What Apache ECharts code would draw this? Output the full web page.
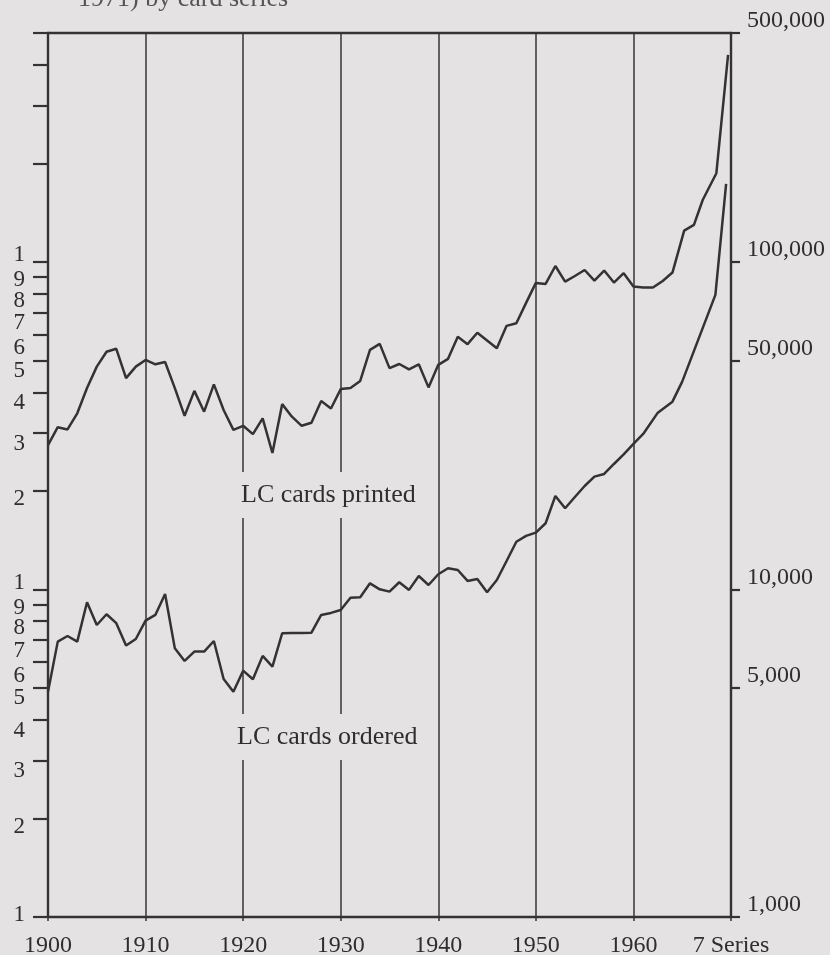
<!DOCTYPE html>
<html><head><meta charset="utf-8">
<script src="https://cdn.jsdelivr.net/npm/echarts@6/dist/echarts.min.js"></script>
<style>html,body{margin:0;padding:0;background:#e5e2e3;}#c{width:830px;height:955px;}</style>
</head><body><div id="c"></div>
<script>
const yearsPrinted = [1900,1901,1902,1903,1904,1905,1906,1907,1908,1909,
  1910,1911,1912,1913,1914,1915,1916,1917,1918,1919,
  1920,1921,1922,1923,1924,1925,1926,1927,1928,1929,
  1930,1931,1932,1933,1934,1935,1936,1937,1938,1939,
  1940,1941,1942,1943,1944,1945,1946,1947,1948,1949,
  1950,1951,1952,1953,1954,1955,1956,1957,1958,1959,
  1960,1961,1962,1963,1964,1965.2,1966.2,1967.1,1968.5,1969.7];
const cardsPrinted = [27600,31300,30800,34500,41200,47900,53200,54300,44200,47900,
  50200,48700,49500,41200,33900,40400,34900,42300,35300,30700,
  31600,29800,33300,26100,36800,33700,31600,32300,37600,35700,
  40900,41200,43300,53900,56200,47400,48800,47000,48700,41400,
  48500,50600,59100,56100,60800,57600,54500,63800,65000,75000,
  86300,85700,97200,87100,90600,94500,87700,94100,86500,92400,
  84100,83600,83500,87500,92800,124600,129700,154600,186600,428500];
const yearsOrdered = [1900,1901,1902,1903,1904,1905,1906,1907,1908,1909,
  1910,1911,1912,1913,1914,1915,1916,1917,1918,1919,
  1920,1921,1922,1923,1924,1925,1926,1927,1928,1929,
  1930,1931,1932,1933,1934,1935,1936,1937,1938,1939,
  1940,1941,1942,1943,1944,1945,1946,1947,1948,1949,
  1950,1951,1952,1953,1954,1955,1956,1957,1958,1959,
  1960,1961,1962.5,1964,1965,1968.4,1969.5];
const cardsOrdered = [4870,6930,7210,6930,9140,7790,8400,7890,6740,7060,
  8030,8360,9690,6610,6050,6460,6460,6960,5330,4870,
  5650,5320,6270,5810,7350,7360,7360,7380,8360,8480,
  8660,9440,9470,10440,10010,9850,10520,9970,10990,10320,
  11130,11610,11470,10620,10770,9810,10690,12220,13990,14570,
  14910,15930,19300,17700,19160,20700,22100,22530,24160,25840,
  27820,29840,34660,37450,43110,79300,173100];
const xTickYears = [1900,1910,1920,1930,1940,1950,1960,1970];
const xTickLabels = ['1900','1910','1920','1930','1940','1950','1960','7 Series'];
const leftTickValues = [1000,2000,3000,4000,5000,6000,7000,8000,9000,
  10000,20000,30000,40000,50000,60000,70000,80000,90000,
  100000,200000,300000,400000,500000];
const leftLabelValues = [1000,2000,3000,4000,5000,6000,7000,8000,9000,
  10000,20000,30000,40000,50000,60000,70000,80000,90000,100000];
const rightTickValues = [1000,5000,10000,50000,100000,500000];
const rightTickLabels = ['1,000','5,000','10,000','50,000','100,000','500,000'];
const seriesNames = ['LC cards printed','LC cards ordered'];
const title = '1971) by card series';

const FONT = 'Liberation Serif';
const INK = '#333333';
const BG = '#e5e2e3';
const chart = echarts.init(document.getElementById('c'), null, {renderer:'canvas'});
const digitStyle = (pad) => ({fontFamily: FONT, fontSize: 23, color: '#2e2e2e', padding: pad});
const option = {
  backgroundColor: BG,
  animation: false,
  grid: {left: 48, right: 99, top: 33, bottom: 38, containLabel: false, outerBoundsMode: 'none'},
  xAxis: [{
    type: 'value', min: 1900, max: 1970, interval: 10,
    axisLine: {show: true, lineStyle: {color: INK, width: 2.4}},
    axisTick: {show: true, length: 4, lineStyle: {color: INK, width: 1.5}},
    splitLine: {show: true, lineStyle: {color: '#404040', width: 1.6}},
    axisLabel: {margin: 17, fontFamily: FONT, fontSize: 24, color: '#2e2e2e',
      formatter: v => { const i = xTickYears.indexOf(v); return i >= 0 ? xTickLabels[i] : ''; }}
  }, {
    type: 'value', min: 1900, max: 1970, position: 'top',
    axisLine: {show: true, onZero: false, lineStyle: {color: INK, width: 2.4}},
    axisTick: {show: false}, axisLabel: {show: false}, splitLine: {show: false}
  }],
  yAxis: [{
    type: 'log', logBase: 10, min: 1000, max: 500000, position: 'left',
    axisLine: {show: true, lineStyle: {color: INK, width: 2.4}},
    axisTick: {show: true, inside: false, length: 15, customValues: leftTickValues, lineStyle: {color: INK, width: 2.2}},
    splitLine: {show: false}, minorTick: {show: false},
    axisLabel: {
      margin: 23, customValues: leftLabelValues, fontFamily: FONT, fontSize: 23, color: '#2e2e2e',
      formatter: v => {
        const e = Math.floor(Math.log10(v) + 1e-9);
        const d = Math.round(v / Math.pow(10, e));
        let k = 'd' + d;
        if (d === 1) k = (v === 1000) ? 'b' : 'u';
        return '{' + k + '|' + d + '}';
      },
      rich: {
        u: digitStyle([0,0,14,0]), b: digitStyle([0,0,4,0]),
        d9: digitStyle([7,0,0,0]), d8: digitStyle([14,0,0,0]), d7: digitStyle([21,0,0,0]),
        d6: digitStyle([27,0,0,0]), d5: digitStyle([20,0,0,0]), d4: digitStyle([22,0,0,0]),
        d3: digitStyle([21,0,0,0]), d2: digitStyle([17,0,0,0])
      }
    }
  }, {
    type: 'log', logBase: 10, min: 1000, max: 500000, position: 'right',
    axisLine: {show: true, lineStyle: {color: INK, width: 2.4}},
    axisTick: {show: true, inside: false, length: 9, customValues: rightTickValues, lineStyle: {color: INK, width: 2.2}},
    splitLine: {show: false}, minorTick: {show: false},
    axisLabel: {
      margin: 16, customValues: rightTickValues, fontFamily: FONT, fontSize: 24, color: '#2e2e2e',
      verticalAlign: 'bottom',
      formatter: v => { const i = rightTickValues.indexOf(v); return i >= 0 ? rightTickLabels[i] : ''; }
    }
  }],
  series: [{
    name: seriesNames[0], type: 'line', xAxisIndex: 0, yAxisIndex: 0,
    symbol: 'none', showSymbol: false,
    lineStyle: {color: INK, width: 2.5}, z: 5,
    data: yearsPrinted.map((y, i) => [y, cardsPrinted[i]])
  }, {
    name: seriesNames[1], type: 'line', xAxisIndex: 0, yAxisIndex: 0,
    symbol: 'none', showSymbol: false,
    lineStyle: {color: INK, width: 2.5}, z: 5,
    data: yearsOrdered.map((y, i) => [y, cardsOrdered[i]])
  }],
  graphic: [{
    type: 'text', z: 100, left: 78, top: -14,
    style: {text: title, fontFamily: FONT, fontSize: 26, fill: '#555'}
  }, {
    type: 'text', z: 100, left: 237, top: 472,
    style: {text: seriesNames[0], fontFamily: FONT, fontSize: 26, fill: '#2e2e2e',
      backgroundColor: BG, padding: [10, 4, 10, 4]}
  }, {
    type: 'text', z: 100, left: 233, top: 714,
    style: {text: seriesNames[1], fontFamily: FONT, fontSize: 26, fill: '#2e2e2e',
      backgroundColor: BG, padding: [10, 4, 10, 4]}
  }]
};
chart.setOption(option);
</script></body></html>
